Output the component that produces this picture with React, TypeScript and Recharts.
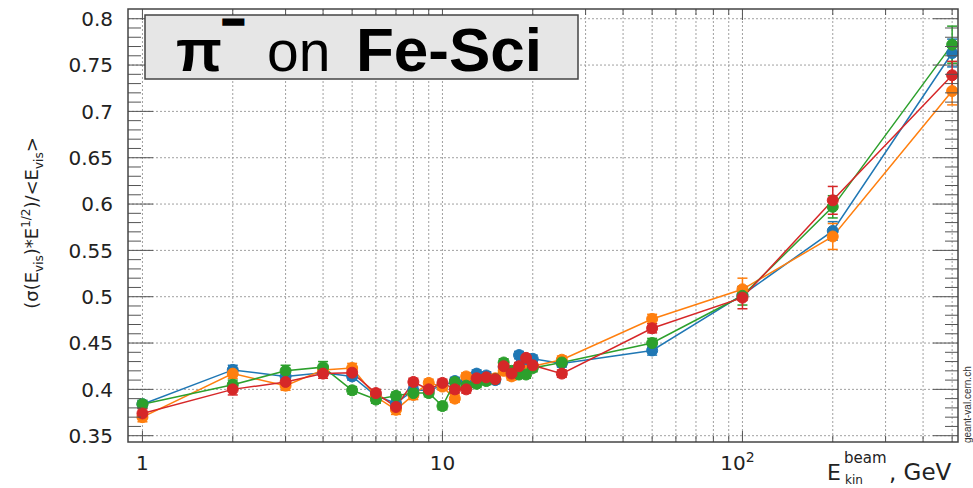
import React from 'react';
import { LineChart, Line, XAxis, YAxis, ErrorBar } from 'recharts';

// beam energies, GeV
const energies = [1, 2, 3, 4, 5, 6, 7, 8, 9, 10, 11, 12, 13, 14, 15, 16, 17, 18, 19, 20, 25, 50, 100, 200, 500];

const blue = [0.384, 0.421, 0.414, 0.418, 0.414, 0.393, 0.385, 0.399, 0.399, 0.404, 0.409, 0.408, 0.417, 0.415, 0.41, 0.424, 0.418, 0.437, 0.432, 0.433, 0.428, 0.442, 0.502, 0.571, 0.763];
const orange = [0.37, 0.417, 0.404, 0.421, 0.423, 0.392, 0.378, 0.394, 0.407, 0.403, 0.39, 0.414, 0.411, 0.412, 0.412, 0.42, 0.414, 0.42, 0.42, 0.425, 0.432, 0.476, 0.508, 0.565, 0.722];
const green = [0.384, 0.405, 0.42, 0.424, 0.399, 0.389, 0.393, 0.396, 0.396, 0.382, 0.408, 0.404, 0.406, 0.409, 0.411, 0.429, 0.42, 0.416, 0.416, 0.423, 0.429, 0.45, 0.501, 0.597, 0.772];
const red = [0.374, 0.4, 0.408, 0.417, 0.418, 0.396, 0.381, 0.408, 0.4, 0.407, 0.4, 0.4, 0.412, 0.413, 0.411, 0.425, 0.417, 0.425, 0.434, 0.426, 0.417, 0.466, 0.499, 0.604, 0.739];

const blueErr = [0.004, 0.005, 0.004, 0.004, 0.004, 0.004, 0.004, 0.004, 0.004, 0.004, 0.004, 0.004, 0.004, 0.004, 0.004, 0.004, 0.004, 0.004, 0.004, 0.004, 0.004, 0.005, 0.006, 0.01, 0.015];
const orangeErr = [0.005, 0.005, 0.005, 0.005, 0.005, 0.004, 0.005, 0.005, 0.004, 0.004, 0.004, 0.004, 0.004, 0.004, 0.004, 0.004, 0.004, 0.004, 0.004, 0.004, 0.004, 0.005, 0.012, 0.014, 0.015];
const greenErr = [0.004, 0.005, 0.006, 0.006, 0.004, 0.004, 0.004, 0.004, 0.004, 0.004, 0.004, 0.004, 0.004, 0.004, 0.004, 0.004, 0.004, 0.004, 0.004, 0.004, 0.004, 0.005, 0.01, 0.012, 0.02];
const redErr = [0.005, 0.006, 0.005, 0.005, 0.005, 0.004, 0.004, 0.004, 0.004, 0.004, 0.004, 0.004, 0.004, 0.004, 0.004, 0.004, 0.004, 0.004, 0.004, 0.004, 0.004, 0.005, 0.012, 0.015, 0.015];

const xTicks = [1, 2, 3, 4, 5, 6, 7, 8, 9, 10, 20, 30, 40, 50, 60, 70, 80, 90, 100, 200, 300, 400, 500];
const xMajor = [1, 10, 100];
const yMajor = [0.35, 0.4, 0.45, 0.5, 0.55, 0.6, 0.65, 0.7, 0.75, 0.8];
const yMinor = [
  0.35, 0.36, 0.37, 0.38, 0.39, 0.4, 0.41, 0.42, 0.43, 0.44, 0.45, 0.46, 0.47, 0.48, 0.49, 0.5,
  0.51, 0.52, 0.53, 0.54, 0.55, 0.56, 0.57, 0.58, 0.59, 0.6, 0.61, 0.62, 0.63, 0.64, 0.65,
  0.66, 0.67, 0.68, 0.69, 0.7, 0.71, 0.72, 0.73, 0.74, 0.75, 0.76, 0.77, 0.78, 0.79, 0.8,
];

const X_DOMAIN: [number, number] = [0.895, 523];
const Y_DOMAIN: [number, number] = [0.3432, 0.8105];

const C = { blue: '#1f77b4', orange: '#ff7f0e', green: '#2ca02c', red: '#d62728' };
const PLOT = { left: 128, right: 958, top: 9, bottom: 442 };
const W = 973;
const H = 488;
const TICK = '#555';
const GRID = '#a0a0a0';
const FONT = 'DejaVu Sans, sans-serif';
const TITLE_FONT = 'Liberation Sans, Arial, sans-serif';
const MARGIN = { top: PLOT.top, right: W - PLOT.right, bottom: 0, left: 0 };

const rows = energies.map((e, i) => ({
  e,
  blue: blue[i], blueErr: blueErr[i],
  orange: orange[i], orangeErr: orangeErr[i],
  green: green[i], greenErr: greenErr[i],
  red: red[i], redErr: redErr[i],
}));

const isMajorY = (v: number) => yMajor.some((m) => Math.abs(m - v) < 1e-6);

// background layer: dotted grid only
const GridYTick = (props: any) => {
  const { y, payload } = props;
  if (!isMajorY(payload.value)) return <g />;
  return <line x1={PLOT.left} x2={PLOT.right} y1={y} y2={y} stroke={GRID} strokeWidth={1} strokeDasharray="2 2" />;
};

const GridXTick = (props: any) => {
  const { x } = props;
  return <line x1={x} x2={x} y1={PLOT.top} y2={PLOT.bottom} stroke={GRID} strokeWidth={1} strokeDasharray="2 2" />;
};

// front layer: inward ticks on all four sides + labels
const YTick = (props: any) => {
  const { y, payload } = props;
  const major = isMajorY(payload.value);
  const len = major ? 25 : 13;
  return (
    <g>
      <line x1={PLOT.left} x2={PLOT.left + len} y1={y} y2={y} stroke={TICK} strokeWidth={1} />
      <line x1={PLOT.right} x2={PLOT.right - len} y1={y} y2={y} stroke={TICK} strokeWidth={1} />
      {major && (
        <text x={113} y={y} dy="0.36em" textAnchor="end" fontSize={20} fontFamily={FONT} fill="#222">
          {String(payload.value)}
        </text>
      )}
    </g>
  );
};

const XTick = (props: any) => {
  const { x, payload } = props;
  const v = payload.value;
  const major = xMajor.includes(v);
  const len = major ? 11 : 6;
  return (
    <g>
      <line x1={x} x2={x} y1={PLOT.bottom} y2={PLOT.bottom - len} stroke={TICK} strokeWidth={1} />
      <line x1={x} x2={x} y1={PLOT.top} y2={PLOT.top + len} stroke={TICK} strokeWidth={1} />
      {v === 1 && (
        <text x={x} y={470} textAnchor="middle" fontSize={20} fontFamily={FONT} fill="#222">1</text>
      )}
      {v === 10 && (
        <text x={x} y={470} textAnchor="middle" fontSize={20} fontFamily={FONT} fill="#222">10</text>
      )}
      {v === 100 && (
        <text x={x - 5} y={470} textAnchor="middle" fontSize={20} fontFamily={FONT} fill="#222">
          10<tspan dy={-8} fontSize={14}>2</tspan>
        </text>
      )}
    </g>
  );
};

const series: (keyof typeof C)[] = ['blue', 'orange', 'green', 'red'];

const axes = (xt: React.ReactElement, yt: React.ReactElement) => [
  <XAxis
    key="x"
    dataKey="e"
    type="number"
    scale="log"
    domain={X_DOMAIN}
    allowDataOverflow
    ticks={xTicks}
    interval={0}
    height={H - PLOT.bottom}
    axisLine={false}
    tickLine={false}
    tick={xt}
  />,
  <YAxis
    key="y"
    type="number"
    domain={Y_DOMAIN}
    allowDataOverflow
    ticks={yMinor}
    interval={0}
    width={PLOT.left}
    axisLine={false}
    tickLine={false}
    tick={yt}
  />,
];

const layer: React.CSSProperties = { position: 'absolute', left: 0, top: 0 };

export default function App() {
  return (
    <div style={{ position: 'absolute', left: 0, top: 0, width: W, height: H, background: '#fff' }}>
      <div style={layer}>
        <LineChart width={W} height={H} data={rows} margin={MARGIN}>
          {axes(<GridXTick />, <GridYTick />)}
        </LineChart>
      </div>
      <div style={layer}>
        <LineChart width={W} height={H} data={rows} margin={MARGIN}>
          {axes(<XTick />, <YTick />)}
          {series.map((key) => (
            <Line
              key={key}
              dataKey={key}
              stroke={C[key]}
              strokeWidth={1.5}
              isAnimationActive={false}
              activeDot={false}
              dot={{ r: 5.5, fill: C[key], stroke: C[key], strokeWidth: 1 }}
            >
              <ErrorBar dataKey={`${key}Err`} direction="y" width={5} stroke={C[key]} strokeWidth={1.5} />
            </Line>
          ))}
        </LineChart>
      </div>
      <svg width={W} height={H} style={{ ...layer, pointerEvents: 'none' }}>
        <rect
          x={PLOT.left}
          y={PLOT.top}
          width={PLOT.right - PLOT.left}
          height={PLOT.bottom - PLOT.top}
          fill="none"
          stroke="#444"
          strokeWidth={1.5}
        />
        <rect x={145} y={15} width={433} height={64} fill="#e6e6e6" stroke="#444" strokeWidth={1.5} />
        <text x={176} y={71} fontSize={60} fontWeight="bold" fontFamily={TITLE_FONT} fill="#000">π</text>
        <text x={222} y={35} fontSize={38} fontWeight="bold" fontFamily={TITLE_FONT} fill="#000" stroke="#000" strokeWidth={3}>−</text>
        <text x={267} y={71} fontSize={57} fontFamily={TITLE_FONT} fill="#000">on</text>
        <text x={356} y={71} fontSize={62} fontWeight="bold" fontFamily={TITLE_FONT} fill="#000">Fe-Sci</text>

        <text transform="translate(38,223) rotate(-90)" textAnchor="middle" fontSize={18} fontFamily={FONT} fill="#222">
          (σ(E<tspan dy={5} fontSize={12}>vis</tspan>
          <tspan dy={-5} fontSize={18}>)*E</tspan>
          <tspan dy={-8} fontSize={12}>1/2</tspan>
          <tspan dy={8} fontSize={18}>)/&lt;E</tspan>
          <tspan dy={5} fontSize={12}>vis</tspan>
          <tspan dy={-5} fontSize={18}>&gt;</tspan>
        </text>

        <text x={827} y={480} fontSize={22} fontFamily={FONT} fill="#222">E</text>
        <text x={844} y={463} fontSize={15} fontFamily={FONT} fill="#222">beam</text>
        <text x={845} y={484} fontSize={12} fontFamily={FONT} fill="#222">kin</text>
        <text x={889} y={480} fontSize={23} fontFamily={FONT} fill="#222">, GeV</text>

        <text transform="translate(971,443) rotate(-90)" fontSize={10} fontFamily={TITLE_FONT} fill="#333">
          geant-val.cern.ch
        </text>
      </svg>
    </div>
  );
}
